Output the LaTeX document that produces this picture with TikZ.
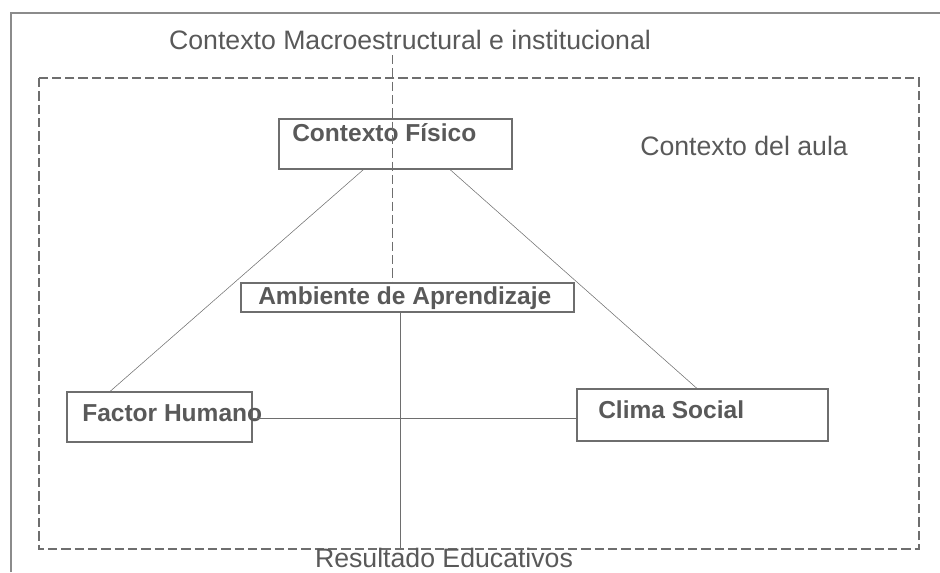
\documentclass[tikz,border=0pt]{standalone}
\usepackage{fontspec}
\setmainfont{Liberation Sans}
\definecolor{pen}{HTML}{6E6E6E}
\definecolor{ink}{HTML}{595959}
\tikzset{
  caja/.style={draw=pen, thick, rectangle, inner sep=0pt},
  rotulo/.style={text=ink, font=\bfseries\fontsize{18.4}{20}\selectfont, inner sep=0pt, anchor=west},
  titulo/.style={text=ink, font=\fontsize{20}{22}\selectfont, inner sep=0pt},
  linea/.style={draw=pen, thin}
}
\begin{document}
\begin{tikzpicture}[x=0.75pt,y=-0.75pt]
\useasboundingbox (0,0) rectangle (940,572);
% marco exterior
\draw[pen!80, line width=2pt] (11,572) -- (11,13) -- (940,13);
% contexto del aula
\draw[pen, dashed, dash pattern=on 7pt off 3pt, thick] (39,78) rectangle (919,549);

\node[titulo] (macro) at (410,40) {Contexto Macroestructural e institucional};
\node[titulo, anchor=west] (aula) at (640,146) {Contexto del aula};
\node[titulo, anchor=base] (resultado) at (444,567) {Resultado Educativos};

% cajas
\node[caja, minimum width=233*0.75pt, minimum height=50*0.75pt] (fisico) at (395.5,144) {};
\node[rotulo] (fisico-txt) at (292,133) {Contexto Físico};
\node[caja, minimum width=333*0.75pt, minimum height=29*0.75pt] (ambiente) at (407.5,297.5) {};
\node[rotulo] (ambiente-txt) at (258,298) {Ambiente de Aprendizaje};
\node[caja, minimum width=185*0.75pt, minimum height=50*0.75pt] (humano) at (159.5,417) {};
\node[rotulo] (humano-txt) at (82,413) {Factor Humano};
\node[caja, minimum width=251*0.75pt, minimum height=52*0.75pt] (clima) at (702.5,415) {};
\node[rotulo] (clima-txt) at (598,410) {Clima Social};

\coordinate (macro-pie) at (392,55);
\coordinate (suelo) at (400,549);

% conexiones
\draw[pen, dashed, dash pattern=on 7pt off 3pt] (macro-pie) -- (ambiente.north -| macro-pie);
\draw[linea] ([xshift=-32*0.75pt]fisico.south) -- ([xshift=-49.5*0.75pt]humano.north);
\draw[linea] ([xshift=54.5*0.75pt]fisico.south) -- ([xshift=-5.5*0.75pt]clima.north);
\draw[linea] (humano.east |- 0,418) -- (clima.west |- 0,418);
\draw[linea] (ambiente.south -| suelo) -- (suelo);
\end{tikzpicture}
\end{document}
